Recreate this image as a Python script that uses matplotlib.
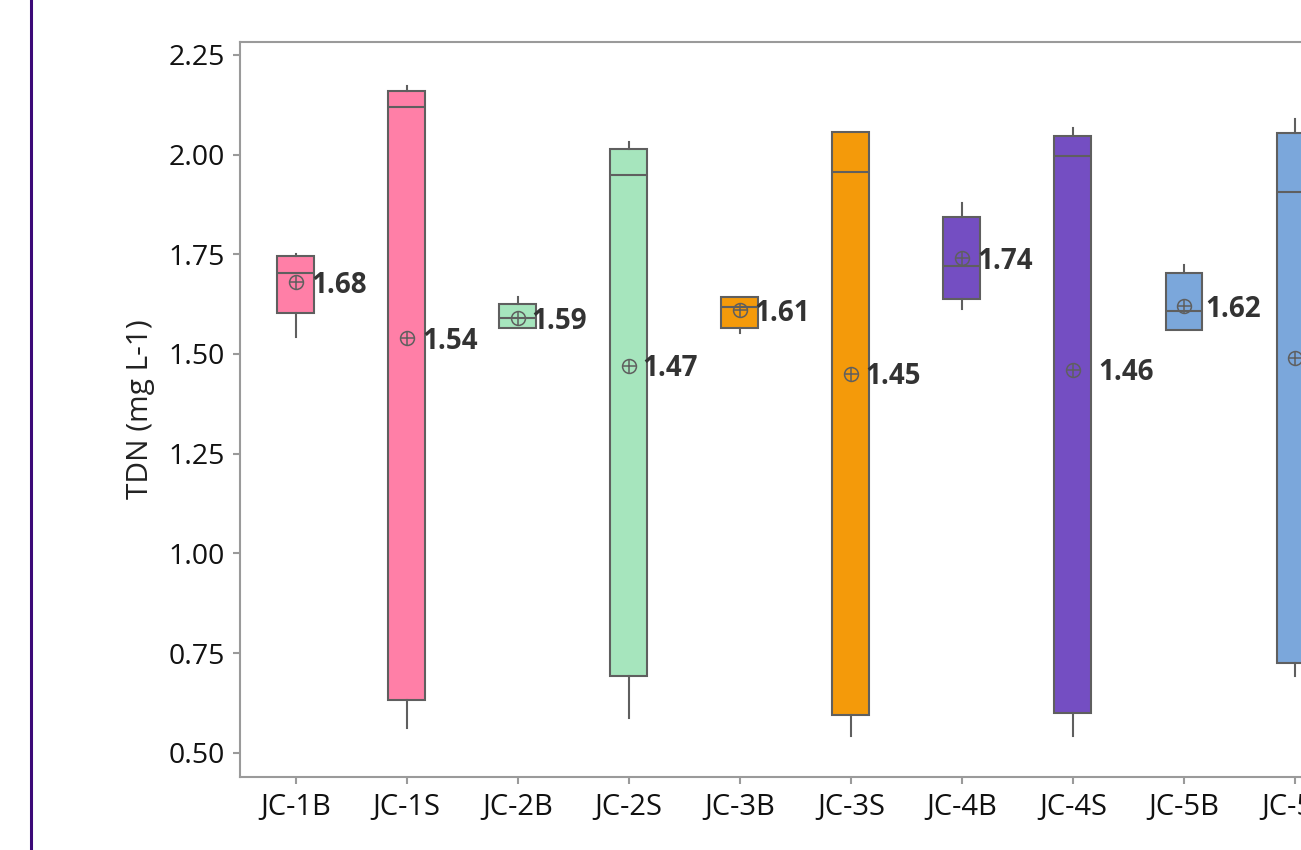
import matplotlib
matplotlib.use("Agg")
import matplotlib.pyplot as plt
from matplotlib.lines import Line2D

plt.rcParams['font.family'] = ['Open Sans', 'DejaVu Sans']

# Sampling sites and TDN summary statistics (mg L-1)
sites = ['JC-1B', 'JC-1S', 'JC-2B', 'JC-2S', 'JC-3B',
         'JC-3S', 'JC-4B', 'JC-4S', 'JC-5B', 'JC-5S']
whisker_low = [1.543, 0.563, 1.565, 0.586, 1.552, 0.541, 1.612, 0.541, 1.560, 0.692]
quartile_1 = [1.602, 0.633, 1.565, 0.692, 1.565, 0.594, 1.639, 0.600, 1.560, 0.724]
medians = [1.703, 2.120, 1.590, 1.950, 1.617, 1.957, 1.720, 1.996, 1.607, 1.907]
quartile_3 = [1.745, 2.159, 1.625, 2.015, 1.643, 2.057, 1.844, 2.047, 1.703, 2.053]
whisker_high = [1.750, 2.172, 1.643, 2.032, 1.643, 2.057, 1.879, 2.066, 1.724, 2.088]
means = [1.68, 1.54, 1.59, 1.47, 1.61, 1.45, 1.74, 1.46, 1.62, 1.49]
y_ticks = [0.50, 0.75, 1.00, 1.25, 1.50, 1.75, 2.00, 2.25]

box_colors = ['#FF7FA7', '#FF7FA7', '#A6E5BD', '#A6E5BD', '#F49A0A',
              '#F49A0A', '#744EC2', '#744EC2', '#7BA7DB', '#7BA7DB']
label_dx = [17, 17, 15, 15, 15, 15, 16, 26, 22, 17]

edge = '#5f5f5f'
spine_col = '#9a9a9a'

fig = plt.figure(figsize=(13.01, 8.5), dpi=100)
ax = fig.add_axes([0.1846, 0.0853, 0.8535, 0.8656])

stats = []
for i in range(len(sites)):
    stats.append(dict(label=sites[i], whislo=whisker_low[i], q1=quartile_1[i],
                      med=medians[i], q3=quartile_3[i], whishi=whisker_high[i]))

bp = ax.bxp(stats, positions=range(len(sites)), widths=0.333, showfliers=False,
            showcaps=False, patch_artist=True,
            boxprops=dict(edgecolor=edge, linewidth=1.5),
            medianprops=dict(color=edge, linewidth=1.5),
            whiskerprops=dict(color=edge, linewidth=1.5))
for patch, c in zip(bp['boxes'], box_colors):
    patch.set_facecolor(c)

# mean symbols (circle with crosshair) and their value labels
xs = list(range(len(sites)))
ax.plot(xs, means, linestyle='none', marker='o', markersize=10,
        markerfacecolor='none', markeredgecolor=edge, markeredgewidth=1.1, zorder=5)
ax.plot(xs, means, linestyle='none', marker='+', markersize=10,
        markeredgecolor=edge, markeredgewidth=1.1, zorder=5)
for i, m in enumerate(means):
    ax.annotate(f'{m:.2f}', xy=(i, m), xytext=(label_dx[i] - 1, -3),
                textcoords='offset pixels', ha='left', va='center',
                fontsize=20, fontweight='bold', color='#333333', zorder=6)

ax.set_xlim(-0.5, 9.5)
ax.set_ylim(0.438, 2.283)
ax.set_yticks(y_ticks)
ax.set_yticklabels([f'{t:.2f}' for t in y_ticks])
ax.set_xticks(xs)
ax.set_xticklabels(sites)
ax.set_ylabel('TDN (mg L-1)', fontsize=21.5, color='#222222', labelpad=10)

for side in ['left', 'top', 'bottom', 'right']:
    ax.spines[side].set_color(spine_col)
    ax.spines[side].set_linewidth(1.5)
ax.tick_params(axis='y', colors=spine_col, labelcolor='#111111',
               labelsize=20.5, length=5, width=1.5, pad=6)
ax.tick_params(axis='x', colors=spine_col, labelcolor='#111111',
               labelsize=21, length=5, width=1.5, pad=6)

# thin indigo frame line on the left
fig.add_artist(Line2D([30.5 / 1301, 30.5 / 1301], [0, 1], color='#3C0A78',
                      linewidth=2.2, transform=fig.transFigure))

fig.savefig('out.png', dpi=100)
